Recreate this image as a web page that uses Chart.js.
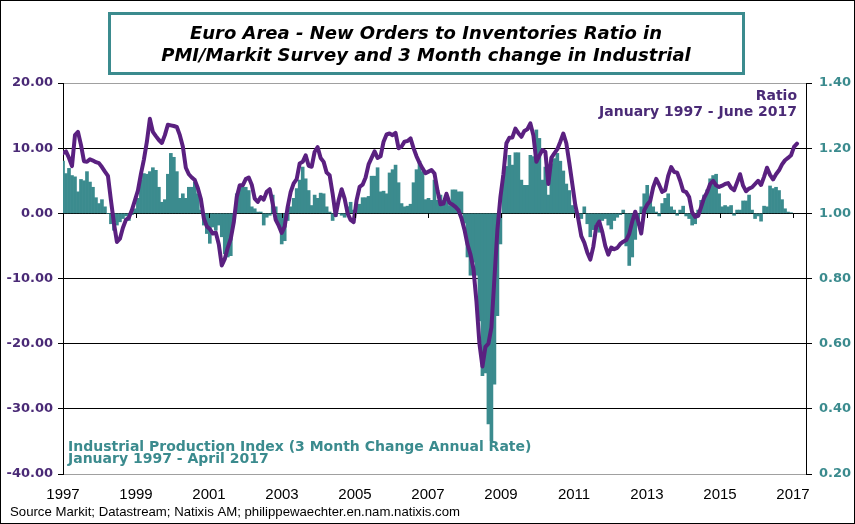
<!DOCTYPE html>
<html>
<head>
<meta charset="utf-8">
<script src="https://cdn.jsdelivr.net/npm/chart.js@4.4.1/dist/chart.umd.min.js"></script>
<style>
  html, body { margin: 0; padding: 0; background: #fff; }
  #wrap { position: relative; width: 855px; height: 524px; }
  #frame { position: absolute; left: 0; top: 0; width: 855px; height: 524px; box-sizing: border-box; border: 1px solid #000; pointer-events: none; }
</style>
</head>
<body>
<div id="wrap">
  <canvas id="chart" width="855" height="524"></canvas>
  <div id="frame"></div>
</div>
<script>
// monthly data, index 0 = January 1997
const yearTicks = [1997, 1999, 2001, 2003, 2005, 2007, 2009, 2011, 2013, 2015, 2017];

// New orders / inventories ratio, Jan 1997 - Jun 2017 (right axis)
const ratio = [
  1.185, 1.19, 1.17, 1.145, 1.24, 1.25, 1.21, 1.16, 1.158, 1.166, 1.162, 1.157,
  1.154, 1.142, 1.128, 1.115, 1.04, 0.97, 0.912, 0.922, 0.956, 0.98, 0.987, 1.01,
  1.04, 1.07, 1.12, 1.165, 1.22, 1.29, 1.25, 1.237, 1.225, 1.216, 1.24, 1.272,
  1.27, 1.268, 1.265, 1.24, 1.205, 1.14, 1.12, 1.11, 1.102, 1.078, 1.045, 0.985,
  0.96, 0.952, 0.938, 0.941, 0.905, 0.84, 0.86, 0.895, 0.922, 0.972, 1.05, 1.086,
  1.086, 1.105, 1.11, 1.088, 1.045, 1.035, 1.05, 1.042, 1.066, 1.074, 1.03, 0.98,
  0.962, 0.94, 0.96, 1.02, 1.066, 1.092, 1.105, 1.153, 1.158, 1.178, 1.146, 1.143,
  1.189, 1.203, 1.17, 1.158, 1.125, 1.117, 1.06, 0.994, 1.04, 1.074, 1.045, 1.0,
  0.98, 0.973, 1.04, 1.081, 1.088, 1.11, 1.15, 1.17, 1.19, 1.17, 1.175, 1.22,
  1.242, 1.245, 1.24, 1.247, 1.2, 1.205, 1.22, 1.222, 1.23, 1.2, 1.175, 1.155,
  1.138, 1.123, 1.128, 1.133, 1.122, 1.07, 1.028, 1.03, 1.06, 1.032, 1.027, 1.02,
  1.01, 0.985, 0.95, 0.905, 0.874, 0.83, 0.73, 0.6, 0.53, 0.59, 0.6, 0.65,
  0.8, 0.95, 1.05, 1.12, 1.215, 1.232, 1.233, 1.26, 1.246, 1.235, 1.253, 1.258,
  1.276, 1.24, 1.158, 1.177, 1.194, 1.189, 1.09, 1.17, 1.184, 1.197, 1.22, 1.245,
  1.215, 1.155, 1.09, 1.025, 0.982, 0.93, 0.91, 0.88, 0.858, 0.897, 0.96, 0.975,
  0.943, 0.9, 0.873, 0.895, 0.89, 0.894, 0.906, 0.913, 0.918, 0.937, 0.975, 1.005,
  0.975, 0.938, 1.009, 1.027, 1.038, 1.08, 1.106, 1.087, 1.066, 1.071, 1.115, 1.142,
  1.127, 1.125, 1.1, 1.069, 1.065, 1.05, 1.003, 0.989, 0.992, 1.02, 1.048, 1.065,
  1.09, 1.1, 1.086, 1.081, 1.085, 1.09, 1.093, 1.078, 1.071, 1.095, 1.12, 1.085,
  1.068, 1.076, 1.08, 1.09, 1.1, 1.087, 1.112, 1.14, 1.118, 1.104, 1.12, 1.132,
  1.15, 1.163, 1.17, 1.178, 1.204, 1.214
];

// Industrial production, 3 month change annual rate, Jan 1997 - Apr 2017 (left axis)
const ipChange = [
  8.0, 6.1, 6.9, 5.8, 5.6, 3.3, 5.2, 5.0, 6.4, 4.8, 4.0, 2.4,
  1.5, 2.1, 1.0, 0.0, -1.6, -2.6, -1.8, -1.3, -0.8, -0.4, -1.1, -0.2,
  0.7, 2.3, 5.1, 6.1, 6.0, 6.4, 7.0, 6.6, 4.0, 1.7, 2.1, 6.0,
  9.2, 8.6, 6.4, 2.3, 3.0, 2.3, 4.0, 4.0, 4.8, 3.0, 0.5, -1.8,
  -3.1, -4.6, -2.1, -2.6, -1.8, -3.6, -6.2, -6.7, -6.5, -1.1, 3.0, 4.3,
  4.0, 4.0, 3.5, 1.0, 0.7, 0.2, 0.2, -1.8, -0.6, -0.3, 2.8, 1.0,
  -1.6, -4.7, -4.2, -1.1, 1.0, 2.3, 3.8, 5.1, 7.1, 5.3, 3.5, 1.2,
  2.8, 2.3, 3.1, 3.0, 1.0, 0.2, -1.1, -0.5, 0.0, -0.3, -0.6, 1.0,
  1.7, 0.5, 1.2, 1.4, 2.4, 2.4, 2.6, 5.7, 5.7, 7.0, 3.3, 3.4,
  3.0, 6.2, 6.7, 7.4, 4.7, 1.5, 1.0, 1.1, 1.4, 4.7, 6.7, 8.0,
  6.4, 2.1, 2.3, 2.0, 5.1, 2.0, 2.8, 2.0, 2.6, 1.2, 3.6, 3.6,
  3.3, 3.3, -1.5, -6.7, -9.5, -7.5, -9.5, -16.5, -24.9, -24.5, -32.3, -34.9,
  -26.2, -15.7, -4.7, 5.8, 7.2, 8.9, 7.4, 9.3, 9.3, 5.1, 4.3, 4.3,
  8.9, 8.7, 12.8, 11.5, 5.1, 7.1, 2.8, 7.6, 8.4, 9.2, 8.0, 6.5,
  4.5, 3.5, 1.2, 0.5, -0.4, -0.8, 1.0, -1.6, -3.6, -2.5, -1.6, -2.9,
  -1.1, -0.8, -1.8, -2.4, -1.1, -0.6, -0.2, 0.5, -5.0, -8.0, -6.7, -4.0,
  -1.8, 1.0, 3.0, 4.3, 2.5, 1.0, 0.2, -0.4, 1.5, 2.3, 3.0, 1.0,
  0.5, -0.3, 0.5, 1.1, -0.4, -0.8, -1.8, -1.6, 0.5, 2.0, 2.8, 3.6,
  5.3, 5.8, 6.0, 3.0, 1.0, 1.2, 1.0, 1.2, -0.3, 0.5, 0.5, 1.9,
  1.9, 2.8, 0.5, -0.8, -0.4, -1.2, 1.1, 1.0, 4.2, 3.8, 4.0, 3.5,
  2.1, 0.7, 0.2, 0.1
];

const TEAL = "#3b8b8e";
const PURPLE = "#5a2080";
const PURPLE_TXT = "#4a2a76";

const titleLines = [
  "Euro Area - New Orders to Inventories Ratio in",
  "PMI/Markit Survey and 3 Month change in Industrial"
];
const ratioNote = ["Ratio", "January 1997 - June 2017"];
const ipNote = ["Industrial Production Index (3 Month Change Annual Rate)", "January 1997 - April 2017"];
const sourceText = "Source Markit; Datastream; Natixis AM; philippewaechter.en.nam.natixis.com";

const decorations = {
  id: "decorations",
  afterDraw(chart) {
    const ctx = chart.ctx;
    const xs = chart.scales.xYears;
    const y0 = Math.round(chart.scales.y.getPixelForValue(0));
    ctx.save();

    // small ticks under the zero line
    ctx.strokeStyle = "#000";
    ctx.lineWidth = 1;
    yearTicks.forEach(v => {
      const px = Math.round(xs.getPixelForValue(v)) + 0.5;
      ctx.beginPath();
      ctx.moveTo(px, y0);
      ctx.lineTo(px, y0 + 5);
      ctx.stroke();
    });

    // title box
    ctx.strokeStyle = TEAL;
    ctx.lineWidth = 3;
    ctx.strokeRect(109.5, 13.5, 634, 60);
    ctx.fillStyle = "#000";
    ctx.textAlign = "center";
    ctx.font = "italic bold 18px 'DejaVu Sans'";
    ctx.fillText(titleLines[0], 426, 39);
    ctx.fillText(titleLines[1], 426, 61);

    // series notes
    ctx.font = "bold 14px 'DejaVu Sans'";
    ctx.textAlign = "right";
    ctx.fillStyle = PURPLE_TXT;
    ctx.fillText(ratioNote[0], 797, 100);
    ctx.fillText(ratioNote[1], 797, 116);

    ctx.textAlign = "left";
    ctx.fillStyle = TEAL;
    ctx.fillText(ipNote[0], 68, 451);
    ctx.fillText(ipNote[1], 68, 463);

    // source
    ctx.fillStyle = "#000";
    ctx.font = "13.2px 'Liberation Sans'";
    ctx.fillText(sourceText, 10, 516);
    ctx.restore();
  }
};

new Chart(document.getElementById("chart"), {
  data: {
    datasets: [
      {
        type: "line",
        label: "Ratio",
        data: ratio.map((v, i) => ({ x: i, y: v })),
        xAxisID: "x",
        yAxisID: "y1",
        borderColor: PURPLE,
        borderWidth: 4,
        pointRadius: 0,
        tension: 0,
        borderJoinStyle: "round",
        borderCapStyle: "round",
        order: 1
      },
      {
        type: "bar",
        label: "Industrial Production",
        data: ipChange.map((v, i) => ({ x: i, y: v })),
        xAxisID: "x",
        yAxisID: "y",
        backgroundColor: TEAL,
        borderWidth: 0,
        barPercentage: 1,
        categoryPercentage: 1,
        order: 2
      }
    ]
  },
  options: {
    responsive: false,
    animation: false,
    devicePixelRatio: 1,
    layout: { padding: { top: 83, left: 0, right: 0, bottom: 0 } },
    plugins: { legend: { display: false }, tooltip: { enabled: false } },
    scales: {
      // months since January 1997, kept on screen but drawn invisibly
      x: {
        type: "linear",
        position: "bottom",
        min: 0,
        max: 248,
        offset: false,
        afterFit: s => { s.height = 0; },
        grid: { display: false, drawTicks: false, offset: false },
        border: { display: false },
        ticks: { display: false }
      },
      xYears: {
        type: "linear",
        position: "bottom",
        min: 1997,
        max: 2017.356,
        offset: false,
        afterBuildTicks: s => { s.ticks = yearTicks.map(v => ({ value: v })); },
        afterFit: s => { s.height = 50; },
        grid: { display: false, drawTicks: false },
        border: { display: false },
        ticks: {
          callback: v => String(v),
          color: "#000",
          font: { family: "'Liberation Sans'", size: 15 },
          padding: 12,
          maxRotation: 0,
          autoSkip: false
        }
      },
      y: {
        position: "left",
        min: -40,
        max: 20,
        afterFit: s => { s.width = 63; },
        grid: {
          color: c => (c.tick.value === 20 || c.tick.value === -40) ? "#a0a0a0" : "#000",
          tickColor: "#000",
          tickLength: 5
        },
        border: { color: "#000" },
        ticks: {
          stepSize: 10,
          callback: v => v.toFixed(2),
          color: PURPLE_TXT,
          font: { family: "'DejaVu Sans'", size: 13, weight: "bold" },
          padding: 5
        }
      },
      y1: {
        position: "right",
        min: 0.2,
        max: 1.4,
        afterFit: s => { s.width = 49; },
        grid: { drawOnChartArea: false, tickColor: "#000", tickLength: 6 },
        border: { color: "#000" },
        ticks: {
          stepSize: 0.2,
          callback: v => v.toFixed(2),
          color: TEAL,
          font: { family: "'DejaVu Sans'", size: 13, weight: "bold" },
          padding: 7
        }
      }
    }
  },
  plugins: [decorations]
});
</script>
</body>
</html>
